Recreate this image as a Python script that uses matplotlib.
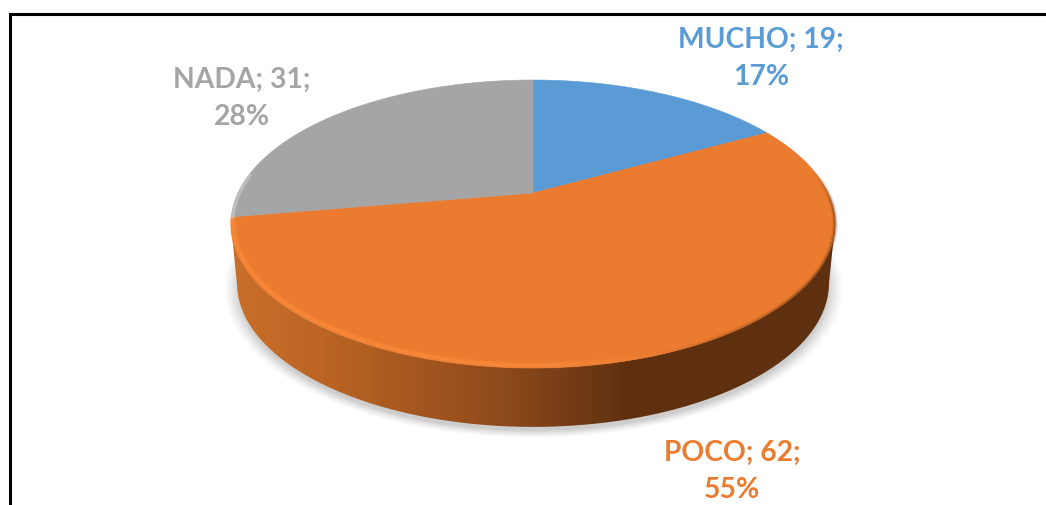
import numpy as np
import matplotlib
matplotlib.use("Agg")
import matplotlib.pyplot as plt
from matplotlib.path import Path
from matplotlib.patches import PathPatch
from matplotlib.collections import LineCollection
from matplotlib.colors import LinearSegmentedColormap

categories = ["MUCHO", "POCO", "NADA"]
values = [19, 62, 31]
percent_labels = ["17%", "55%", "28%"]
colors = ["#5B9BD5", "#EA7B2F", "#A5A5A5"]

W, H = 1046, 505
fig = plt.figure(figsize=(W / 100, H / 100), dpi=100)
ax = fig.add_axes([0, 0, 1, 1])
ax.set_xlim(0, W)
ax.set_ylim(H, 0)
ax.axis("off")

# Perspective disc geometry (pixels)
CX, CY = 533.0, 193.0
K, A, B = 0.215, 295.0, 137.3
DEPTH = 59.0


def project(theta, scale=1.0, dy=0.0):
    """theta clockwise from top on the unit disc -> perspective image."""
    X, Y = scale * np.sin(theta), scale * np.cos(theta)
    w = 1 + K * Y
    return CX + A * X / w, CY - B * Y / w + dy


# soft shadow
yy, xx = np.mgrid[0:H, 0:W]
d = np.sqrt(((xx - 533) / 311.0) ** 2 + ((yy - 288) / 150.0) ** 2)
sh = np.clip((1 - d) / 0.055, 0, 1) ** 1.4 * 0.30
rgba = np.zeros((H, W, 4))
rgba[..., :3] = 0.35
rgba[..., 3] = sh
ax.imshow(rgba, extent=(0, W, H, 0), zorder=1, aspect="auto", interpolation="bilinear")

# rim: from one widest point of the disc round the front to the other
t0 = np.arccos(-K)
t = np.linspace(t0, 2 * np.pi - t0, 721)
x1, y1 = project(t)
x2, y2 = project(t, dy=DEPTH)
x2 = CX + (x2 - CX) * 0.98
verts = np.column_stack([np.r_[x1, x2[::-1]], np.r_[y1, y2[::-1]]])
rim_clip = PathPatch(Path(np.vstack([verts, verts[0]])), fc="none", ec="none", transform=ax.transData)
ax.add_patch(rim_clip)
cmap = LinearSegmentedColormap.from_list(
    "rim",
    [(0.0, "#C96F2A"), (0.15, "#BC6524"), (0.45, "#8E4A1B"), (0.66, "#5E3010"), (1.0, "#5E3010")],
)
grad = np.linspace(0, 1, 606).reshape(1, -1)
im = ax.imshow(grad, extent=(230, 836, 440, 180), cmap=cmap, aspect="auto", zorder=2)
im.set_clip_path(rim_clip)
ax.set_xlim(0, W)
ax.set_ylim(H, 0)

# top wedges, clockwise from 12 o'clock, drawn from the values
total = sum(values)
edges = np.r_[0, np.cumsum(values)] / total * 2 * np.pi
for start, end, c in zip(edges[:-1], edges[1:], colors):
    th = np.linspace(start, end, 300)
    x, y = project(th)
    poly = np.column_stack([np.r_[CX, x, CX], np.r_[CY, y, CY]])
    ax.fill(poly[:, 0], poly[:, 1], color=c, lw=0.4, zorder=3)

# soft dark edge on the orange's right side
th = np.linspace(edges[1], edges[2], 500)
x, y = project(th)
pts = np.column_stack([x, y])
segs = np.stack([pts[:-1], pts[1:]], axis=1)
mid = (th[:-1] + th[1:]) / 2
frac = (mid - mid.min()) / (mid.max() - mid.min())

dark_alpha = np.clip((frac - 0.10) / 0.08, 0, 1) * np.clip((0.50 - frac) / 0.15, 0, 1)
for lw, a in [(4, 0.12), (2.5, 0.2), (1.2, 0.3)]:
    cols = np.zeros((len(segs), 4))
    cols[:, :3] = matplotlib.colors.to_rgb("#5E3010")
    cols[:, 3] = dark_alpha * a
    ax.add_collection(LineCollection(segs, colors=cols, linewidths=lw, zorder=4))

# highlight on the orange's front-left edge
x_in, y_in = project(th, scale=0.993, dy=-1.0)
pts = np.column_stack([x_in, y_in])
segs = np.stack([pts[:-1], pts[1:]], axis=1)
hl_alpha = np.clip((frac - 0.49) / 0.10, 0, 1)
for lw, a in [(5, 0.2), (3.5, 0.3), (1.8, 0.45)]:
    cols = np.zeros((len(segs), 4))
    cols[:, :3] = matplotlib.colors.to_rgb("#FF8E3C")
    cols[:, 3] = hl_alpha * a
    ax.add_collection(LineCollection(segs, colors=cols, linewidths=lw, zorder=4))

# light bevel on the gray's left edge
th = np.linspace(edges[2], edges[3], 200)
x_in, y_in = project(th, scale=0.995)
ax.plot(x_in[:35], y_in[:35], color="#C4C4C4", lw=2.5, alpha=0.8, zorder=4)

# labels: category; value; newline percent
label_pos = [(761, 58.5), (732, 471.5), (242, 98.5)]
for cat, val, pct, c, (lx, ly) in zip(categories, values, percent_labels, colors, label_pos):
    ax.text(lx, ly, f"{cat}; {val};\n{pct}", color=c, family=["Lato", "DejaVu Sans"],
            fontweight="bold", fontsize=20.3, ha="center", va="center", linespacing=1.56, zorder=6)

# frame: top and left only, as cropped in the source image
ax.plot([9.5, 9.5, W], [H, 13.5, 13.5], color="black", lw=2.2, zorder=7, solid_joinstyle="miter")

fig.savefig("out.png", dpi=100)
